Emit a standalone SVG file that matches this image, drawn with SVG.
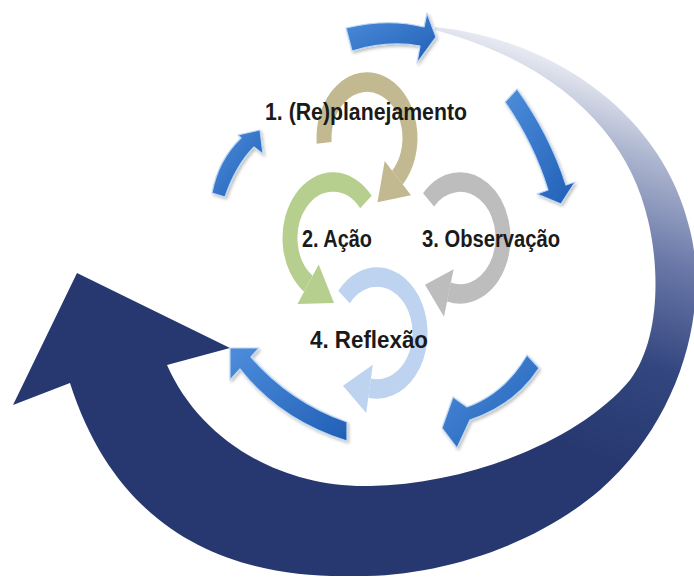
<svg xmlns="http://www.w3.org/2000/svg" width="694" height="578" viewBox="0 0 694 578">
  <defs>
    <linearGradient id="bigGrad" gradientUnits="userSpaceOnUse" x1="600" y1="60" x2="480" y2="420">
      <stop offset="0" stop-color="#f4f5f9"/>
      <stop offset="0.2" stop-color="#aeb7d0"/>
      <stop offset="0.45" stop-color="#6a78a8"/>
      <stop offset="0.72" stop-color="#34467f"/>
      <stop offset="1" stop-color="#26386f"/>
    </linearGradient>
    <linearGradient id="blueGrad" x1="0" y1="0" x2="1" y2="1">
      <stop offset="0" stop-color="#4d8ddb"/>
      <stop offset="1" stop-color="#215fb6"/>
    </linearGradient>
    <filter id="shadow" x="-20%" y="-20%" width="140%" height="140%">
      <feDropShadow dx="1.5" dy="2" stdDeviation="1.5" flood-color="#000" flood-opacity="0.25"/>
    </filter>
  </defs>
  <style>
    .blue { fill: url(#blueGrad); stroke: #bcd8f6; stroke-width: 1.2; stroke-linejoin: round; filter: url(#shadow); }
    .ring { fill: none; stroke-width: 15; }
    .label { font-family: "Liberation Sans", Arial, sans-serif; font-weight: bold; font-size: 23px; fill: #1a1a1a; }
    .tan { stroke: #c3b990; } .tanf { fill: #c3b990; }
    .green { stroke: #b7cf8e; } .greenf { fill: #b7cf8e; }
    .gray { stroke: #bdbdbd; } .grayf { fill: #bdbdbd; }
    .lblue { stroke: #bdd3ef; } .lbluef { fill: #bdd3ef; }
  </style>
  <rect width="694" height="578" fill="#ffffff"/>

  <g id="big-cycle-arrow">
    <path d="M 435 27 C 560 40, 665 120, 690 230 C 710 310, 680 420, 600 490 C 530 550, 430 578, 350 576 C 240 578, 120 540, 70 383 L 13 405 L 77 273 L 230 348 L 167 365 C 200 440, 280 488, 370 486 C 470 484, 580 440, 630 380 C 660 340, 660 270, 648 220 C 630 140, 565 65, 435 30 Z" fill="url(#bigGrad)"/>
  </g>

  <g id="ring-4-reflexao">
    <g transform="translate(377 333) scale(1 1.3)">
      <path class="ring lblue" d="M -32.94 -27.64 A 43 43 0 1 1 -7.47 42.35"/>
      <polygon class="lbluef" points="-4.2,24.5 -10.8,61.5 -34,40.5"/>
    </g>
  </g>
  <g id="ring-3-observacao">
    <g transform="translate(460 238) scale(1 1.3)">
      <path class="ring gray" d="M -31.45 -29.33 A 43 43 0 1 1 -11.13 41.53"/>
      <polygon class="grayf" points="-6.4,24 -16,60.5 -35,36"/>
    </g>
  </g>
  <g id="ring-2-acao">
    <g transform="translate(333 238) scale(1 1.3)">
      <path class="ring green" d="M 32.94 -27.64 A 43 43 0 1 0 -24.66 35.22"/>
      <polygon class="greenf" points="-14.3,20.4 -35.5,50.8 1,50"/>
    </g>
  </g>
  <g id="ring-1-replanejamento">
    <g transform="translate(367 138) scale(1 1.3)">
      <path class="ring tan" d="M -42.84 3.75 A 43 43 0 1 1 30.41 30.41"/>
      <polygon class="tanf" points="17.7,17.7 44,44 10.5,49.5"/>
    </g>
  </g>

  <g id="connectors">
    <path class="blue" d="M 346 28 Q 388 18 424 27 L 427 13 L 436 37 L 417 63 L 420 46 Q 388 40 352 51 Z"/>
    <path class="blue" d="M 517 89 Q 550 135 566 185 L 575 182 L 561 204 L 537 194 L 548 190 Q 534 144 505 102 Z"/>
    <path class="blue" d="M 527 355 Q 505 393 467 407 L 453 397 L 442 428 L 457 448 L 470 420 Q 515 405 539 368 Z"/>
    <path class="blue" d="M 347 422 Q 290 402 251 357 L 259 348 L 230 348 L 230 380 L 240 369 Q 280 420 347 441 Z"/>
    <path class="blue" d="M 212 193 Q 218 160 241 138 L 238 135 L 260 130 L 263 154 L 254 147 Q 236 165 225 197 Z"/>
  </g>

  <g id="labels">
    <text class="label" x="265" y="120" textLength="202" lengthAdjust="spacingAndGlyphs">1. (Re)planejamento</text>
    <text class="label" x="302" y="247" textLength="70" lengthAdjust="spacingAndGlyphs">2. Ação</text>
    <text class="label" x="422" y="247" textLength="138" lengthAdjust="spacingAndGlyphs">3. Observação</text>
    <text class="label" x="310" y="348" textLength="118" lengthAdjust="spacingAndGlyphs">4. Reflexão</text>
  </g>
</svg>
